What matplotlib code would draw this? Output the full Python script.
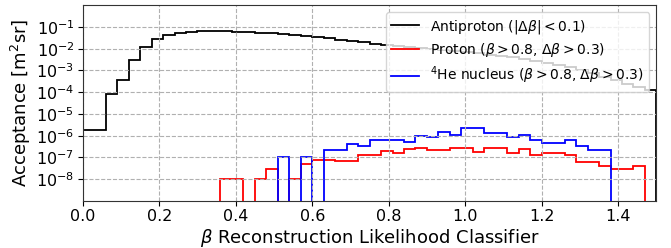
import numpy as np
import matplotlib
matplotlib.use("Agg")
import matplotlib.pyplot as plt

# bin edges of the classifier histogram (0.03 wide)
edges = np.linspace(0.0, 1.5, 51)

# log10 of acceptance per bin (None = empty bin)
antiproton_log = [
    -5.75, -5.75, -4.07, -3.44, -2.52, -1.94, -1.55, -1.35, -1.28, -1.23,
    -1.20, -1.19, -1.20, -1.21, -1.23, -1.26, -1.29, -1.33, -1.37, -1.41,
    -1.46, -1.52, -1.58, -1.63, -1.70, -1.77, -1.84, -1.88, -1.92, -1.96,
    -2.00, -2.05, -2.10, -2.16, -2.22, -2.28, -2.34, -2.40, -2.47, -2.55,
    -2.64, -2.74, -2.85, -2.97, -3.12, -3.28, -3.45, -3.64, -3.77, -3.92,
]
proton_log = [
    None, None, None, None, None, None, None, None, None, None,
    None, None, -8.0, -8.0, None, -8.0, -7.54, None, -8.0, -7.29,
    -7.10, -7.10, -7.17, -7.17, -6.87, -6.87, -6.72, -6.78, -6.63, -6.58,
    -6.64, -6.64, -6.58, -6.55, -6.73, -6.58, -6.58, -6.80, -6.62, -6.88,
    -6.79, -6.79, -6.88, -7.22, -7.22, -7.40, -7.54, -7.54, -7.40, None,
]
helium_log = [
    None, None, None, None, None, None, None, None, None, None,
    None, None, None, None, None, None, None, -6.98, None, -6.98,
    None, -6.66, -6.66, -6.37, -6.48, -6.18, -6.18, -6.18, -6.27, -6.02,
    -6.07, -5.82, -5.99, -5.63, -5.67, -5.88, -5.88, -6.04, -5.99, -6.18,
    -6.35, -6.35, -6.18, -6.48, -6.67, -6.67, None, None, None, None,
]

labels = [
    r"Antiproton ($|\Delta\beta| < 0.1$)",
    r"Proton ($\beta > 0.8$, $\Delta\beta > 0.3$)",
    r"$^{4}$He nucleus ($\beta > 0.8$, $\Delta\beta > 0.3$)",
]
colors = ["black", "red", "blue"]


def to_vals(logs):
    return np.array([0.0 if v is None else 10.0 ** v for v in logs])


fig = plt.figure(figsize=(6.71, 2.48), dpi=100)
ax = fig.add_axes([0.1233, 0.19, 0.855, 0.789])

for logs, lab, col in zip([antiproton_log, proton_log, helium_log], labels, colors):
    ax.stairs(to_vals(logs), edges, baseline=0, color=col, linewidth=1.3, label=lab)

ax.set_yscale("log", nonpositive="clip")
ax.set_xlim(0, 1.5)
ax.set_ylim(1e-9, 1)
ax.set_yticks([10.0 ** k for k in range(-8, 0)])
ax.minorticks_off()
ax.tick_params(labelsize=11.5, pad=2.5)
ax.grid(True, linestyle="--", color="#b0b0b0", linewidth=0.8)
for sp in ax.spines.values():
    sp.set_color("#333333")

ax.set_xlabel(r"$\beta$ Reconstruction Likelihood Classifier", fontsize=13, labelpad=2)
ax.set_ylabel(r"Acceptance [m$^{2}$sr]", fontsize=13, labelpad=2)
ax.legend(loc="upper right", fontsize=10, handlelength=2.0, labelspacing=0.4)

fig.savefig("out.png", dpi=100)
